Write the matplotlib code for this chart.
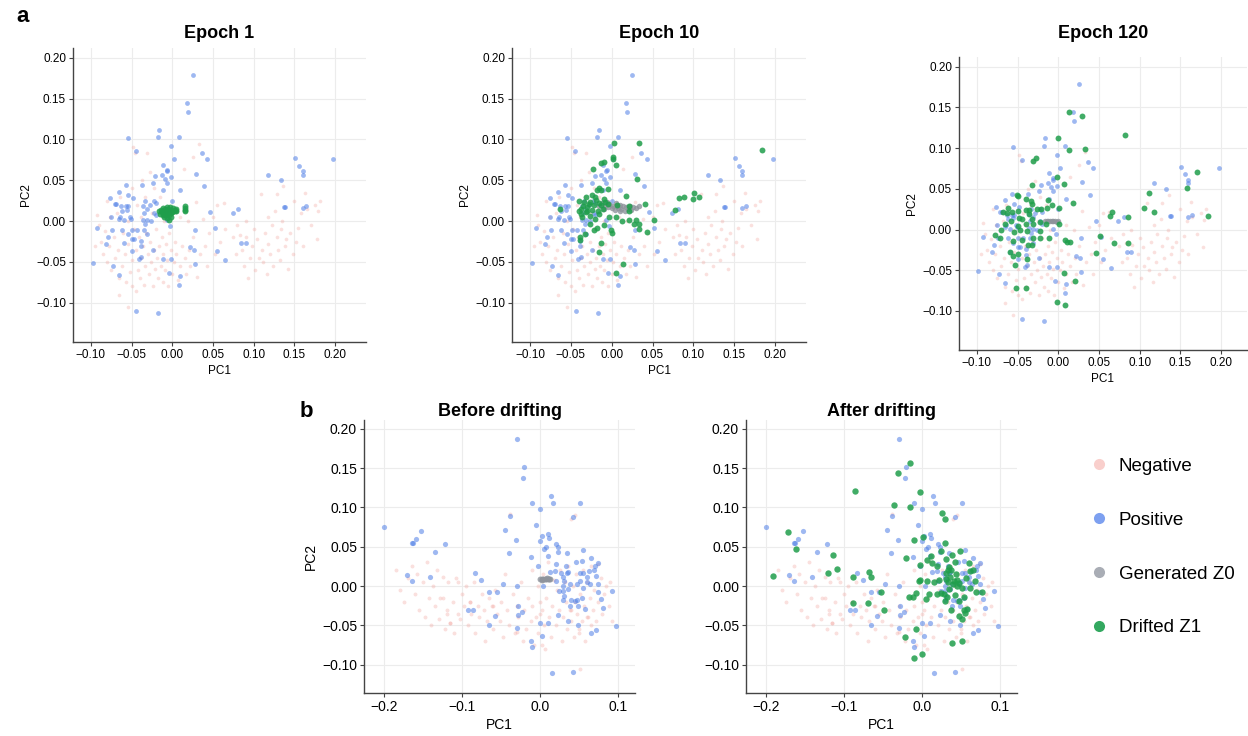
import numpy as np
import matplotlib
matplotlib.use("Agg")
import matplotlib.pyplot as plt
from matplotlib.lines import Line2D
from matplotlib.ticker import FuncFormatter

plt.rcParams['font.family'] = ['Liberation Sans', 'DejaVu Sans']

# ---- panel a: shared negative / positive points (PC1, PC2) ----
neg_a = np.array([
    (-0.090, -0.005), (-0.088, -0.025), (-0.085, -0.040), (-0.083, -0.012), (-0.080, -0.050),
    (-0.078, -0.030), (-0.076, 0.005), (-0.075, -0.060), (-0.072, -0.020), (-0.070, -0.045),
    (-0.068, 0.010), (-0.067, -0.035), (-0.066, -0.070), (-0.064, 0.030), (-0.062, -0.055),
    (-0.060, -0.015), (-0.058, -0.040), (-0.057, -0.075), (-0.055, 0.000), (-0.054, -0.028),
    (-0.052, -0.062), (-0.050, 0.040), (-0.049, -0.048), (-0.048, 0.091), (-0.047, -0.010),
    (-0.046, 0.084), (-0.045, -0.085), (-0.044, -0.035), (-0.043, 0.020), (-0.042, -0.060),
    (-0.041, -0.020), (-0.040, -0.070), (-0.039, 0.005), (-0.038, -0.045), (-0.037, 0.050),
    (-0.036, -0.030), (-0.035, -0.078), (-0.034, -0.055), (-0.033, 0.030), (-0.032, -0.015),
    (-0.031, 0.084), (-0.030, -0.040), (-0.029, -0.065), (-0.028, 0.060), (-0.027, -0.025),
    (-0.026, -0.050), (-0.025, 0.010), (-0.024, -0.080), (-0.023, -0.035), (-0.022, 0.040),
    (-0.021, -0.058), (-0.020, -0.010), (-0.019, -0.045), (-0.018, -0.070), (-0.016, -0.030),
    (-0.015, 0.030), (-0.014, -0.055), (-0.013, -0.020), (-0.012, -0.075), (-0.011, -0.040),
    (-0.010, 0.000), (-0.009, -0.060), (-0.008, -0.028), (-0.006, -0.048), (-0.005, -0.080),
    (-0.004, -0.015), (-0.002, -0.035), (0.000, -0.065), (0.002, -0.050), (0.003, -0.025),
    (0.005, -0.040), (0.007, -0.072), (0.009, 0.005), (0.010, -0.055), (0.012, -0.030),
    (0.014, 0.064), (0.015, -0.045), (0.017, -0.065), (0.019, 0.000), (0.020, -0.035),
    (0.022, -0.055), (0.025, 0.079), (0.026, -0.020), (0.029, 0.023), (0.030, -0.068),
    (0.033, 0.095), (0.034, -0.040), (0.038, 0.003), (0.040, -0.030), (0.043, -0.055),
    (0.045, -0.015), (0.050, 0.005), (0.052, -0.040), (0.055, 0.020), (0.058, -0.025),
    (0.063, 0.022), (0.065, -0.010), (-0.080, 0.025), (-0.095, -0.030), (-0.092, 0.008),
    (-0.066, -0.090), (-0.055, -0.105), (-0.050, -0.080),
    (0.075, -0.020), (0.078, -0.040), (0.080, -0.005), (0.083, -0.017), (0.085, -0.035),
    (0.088, -0.055), (0.091, -0.019), (0.093, -0.070), (0.095, -0.045), (0.098, -0.030),
    (0.100, -0.010), (0.102, -0.060), (0.104, -0.022), (0.106, -0.045), (0.109, 0.033),
    (0.110, -0.035), (0.112, -0.050), (0.114, -0.015), (0.116, -0.065), (0.118, -0.028),
    (0.120, -0.040), (0.122, -0.005), (0.124, -0.055), (0.126, 0.013), (0.128, 0.033),
    (0.128, -0.020), (0.130, -0.035), (0.132, -0.048), (0.134, -0.010), (0.136, 0.043),
    (0.138, -0.030), (0.140, -0.022), (0.142, -0.058), (0.145, -0.015), (0.148, -0.040),
    (0.150, 0.025), (0.152, -0.025), (0.155, -0.008), (0.158, 0.010), (0.160, -0.030),
    (0.163, 0.034), (0.165, 0.015), (0.170, -0.005), (0.175, 0.020), (0.179, 0.012),
    (0.182, 0.025), (0.178, -0.022), (0.118, 0.005), (0.135, 0.000), (0.090, 0.000),
])

pos_a = np.array([
    (0.025, 0.179), (0.018, 0.145), (0.019, 0.134), (-0.016, 0.112), (-0.018, 0.103),
    (0.008, 0.103), (-0.055, 0.102), (-0.045, 0.086), (-0.002, 0.092), (0.036, 0.083),
    (0.043, 0.076), (0.002, 0.076), (-0.011, 0.069), (-0.006, 0.063), (-0.007, 0.061),
    (0.029, 0.058), (-0.013, 0.057), (-0.002, 0.054), (-0.021, 0.055), (-0.009, 0.052),
    (-0.024, 0.047), (-0.007, 0.047), (-0.037, 0.044), (-0.057, 0.044), (0.039, 0.043),
    (0.010, 0.038), (-0.011, 0.038), (-0.066, 0.036), (-0.054, 0.032), (-0.076, 0.028),
    (-0.048, 0.028), (-0.034, 0.025), (-0.023, 0.025), (0.000, 0.025), (-0.071, 0.021),
    (-0.069, 0.021), (-0.063, 0.018), (-0.057, 0.018), (-0.054, 0.018), (-0.036, 0.019),
    (-0.028, 0.020), (-0.020, 0.022), (-0.062, 0.013), (-0.056, 0.014), (-0.031, 0.015),
    (-0.035, 0.010), (-0.022, 0.010), (-0.020, 0.007), (0.046, 0.011), (0.074, 0.010),
    (0.081, 0.015), (0.118, 0.057), (0.133, 0.050), (0.151, 0.077), (0.156, 0.068),
    (0.160, 0.061), (0.160, 0.057), (0.197, 0.076), (0.137, 0.017), (0.139, 0.017),
    (0.160, 0.016), (0.164, 0.018), (-0.075, 0.005), (-0.066, 0.003), (-0.064, 0.005),
    (-0.059, 0.001), (-0.052, 0.005), (-0.051, 0.003), (-0.036, 0.002), (-0.031, 0.001),
    (-0.033, -0.004), (-0.026, 0.000), (-0.007, 0.001), (-0.003, -0.006), (-0.093, -0.009),
    (-0.074, -0.011), (-0.062, -0.011), (-0.049, -0.011), (-0.043, -0.011), (-0.035, -0.011),
    (-0.031, -0.016), (-0.055, -0.016), (-0.047, -0.022), (-0.050, -0.022), (-0.079, -0.019),
    (-0.082, -0.028), (-0.059, -0.027), (-0.039, -0.024), (-0.039, -0.031), (-0.024, -0.035),
    (-0.050, -0.036), (-0.038, -0.044), (-0.041, -0.046), (-0.011, -0.046), (-0.002, -0.046),
    (0.028, -0.011), (0.052, -0.009), (0.022, -0.032), (0.027, -0.035), (0.055, -0.036),
    (0.065, -0.047), (0.028, -0.052), (0.084, -0.027), (0.090, -0.027), (-0.098, -0.051),
    (-0.073, -0.055), (-0.066, -0.066), (-0.004, -0.063), (0.010, -0.067), (0.008, -0.078),
    (-0.044, -0.110), (-0.017, -0.113),
])

gen_ep1 = np.array([
    (-0.012, 0.011), (-0.008, 0.012), (-0.004, 0.011), (0.000, 0.012), (0.004, 0.012),
])
drift_ep1 = np.array([
    (-0.016, 0.012), (-0.015, 0.009), (-0.014, 0.014), (-0.013, 0.011), (-0.012, 0.007),
    (-0.012, 0.016), (-0.011, 0.013), (-0.010, 0.009), (-0.010, 0.005), (-0.009, 0.015),
    (-0.008, 0.011), (-0.008, 0.007), (-0.007, 0.017), (-0.007, 0.013), (-0.006, 0.004),
    (-0.006, 0.009), (-0.005, 0.015), (-0.005, 0.011), (-0.004, 0.007), (-0.004, 0.002),
    (-0.003, 0.013), (-0.003, 0.017), (-0.002, 0.010), (-0.002, 0.005), (-0.001, 0.014),
    (0.000, 0.011), (0.001, 0.016), (0.002, 0.012), (0.003, 0.014), (0.004, 0.012),
    (0.005, 0.015), (0.015, 0.014), (0.016, 0.016), (0.015, 0.018), (0.016, 0.013),
])

gen_ep10 = np.array([
    (-0.015, 0.018), (-0.012, 0.022), (-0.010, 0.015), (-0.008, 0.019), (-0.005, 0.017),
    (-0.003, 0.021), (0.000, 0.016), (0.002, 0.019), (0.004, 0.014), (0.006, 0.018),
    (0.008, 0.016), (0.010, 0.020), (0.012, 0.015), (0.014, 0.018), (0.016, 0.013),
    (0.018, 0.017), (0.020, 0.015), (0.022, 0.019), (0.024, 0.014), (0.026, 0.017),
    (0.030, 0.016), (0.033, 0.018), (0.010, 0.012), (0.005, 0.022), (-0.006, 0.024),
])
drift_ep10 = np.array([
    (0.184, 0.087), (0.003, 0.096), (0.033, 0.096), (0.002, 0.078), (0.001, 0.076),
    (-0.009, 0.073), (-0.013, 0.071), (0.005, 0.069), (-0.023, 0.064), (0.031, 0.051),
    (-0.016, 0.040), (-0.018, 0.038), (-0.013, 0.038), (-0.005, 0.039), (-0.024, 0.032),
    (-0.032, 0.029), (-0.021, 0.029), (-0.010, 0.027), (0.017, 0.031), (-0.040, 0.025),
    (-0.034, 0.023), (-0.028, 0.021), (-0.016, 0.022), (-0.004, 0.021), (0.007, 0.020),
    (0.021, 0.019), (0.041, 0.021), (-0.037, 0.015), (-0.030, 0.017), (-0.024, 0.014),
    (-0.017, 0.013), (-0.011, 0.015), (-0.063, 0.015), (-0.038, 0.009), (-0.032, 0.011),
    (-0.026, 0.006), (-0.015, 0.009), (-0.003, 0.005), (0.021, 0.012), (0.013, 0.000),
    (0.021, 0.001), (0.030, 0.002), (0.027, -0.004), (0.033, -0.004), (0.033, -0.010),
    (0.052, 0.002), (0.043, -0.013), (-0.027, -0.003), (-0.022, -0.011), (-0.033, -0.016),
    (-0.018, -0.009), (-0.001, -0.011), (0.000, -0.015), (-0.039, -0.019), (-0.039, -0.023),
    (-0.013, -0.027), (-0.015, -0.038), (0.014, -0.052), (0.005, -0.064), (0.078, 0.014),
    (0.082, 0.028), (0.088, 0.029), (0.099, 0.027), (0.101, 0.034), (0.107, 0.029),
    (-0.035, 0.018), (-0.030, 0.013), (-0.027, 0.024), (-0.022, 0.020), (-0.019, 0.026),
    (-0.013, 0.020), (-0.008, 0.024), (-0.036, 0.005), (-0.020, 0.003), (-0.010, -0.005),
    (0.005, 0.005), (-0.040, 0.012),
])

gen_ep120 = np.array([
    (-0.016, 0.010), (-0.014, 0.010), (-0.012, 0.010), (-0.010, 0.011), (-0.008, 0.010),
    (-0.006, 0.010), (-0.004, 0.010), (-0.002, 0.009), (0.000, 0.010),
])
drift_ep120 = np.array([
    (0.013, 0.144), (0.029, 0.140), (0.082, 0.116), (0.000, 0.113), (0.013, 0.098),
    (0.033, 0.099), (-0.027, 0.088), (-0.031, 0.084), (-0.002, 0.065), (0.007, 0.056),
    (-0.032, 0.055), (0.170, 0.071), (0.158, 0.051), (0.111, 0.045), (-0.051, 0.043),
    (-0.050, 0.041), (-0.040, 0.037), (-0.034, 0.035), (-0.032, 0.032), (-0.013, 0.036),
    (0.018, 0.033), (-0.008, 0.030), (-0.062, 0.026), (-0.039, 0.024), (-0.036, 0.024),
    (-0.026, 0.025), (-0.021, 0.025), (-0.014, 0.026), (0.001, 0.026), (0.106, 0.026),
    (0.118, 0.021), (-0.049, 0.023), (-0.068, 0.021), (-0.063, 0.020), (-0.057, 0.021),
    (-0.036, 0.019), (0.066, 0.022), (0.064, 0.017), (0.086, 0.016), (0.184, 0.017),
    (-0.048, 0.014), (-0.044, 0.013), (-0.032, 0.013), (-0.023, 0.009), (-0.015, 0.007),
    (0.001, 0.007), (-0.058, 0.010), (-0.065, 0.007), (-0.049, 0.004), (-0.040, 0.007),
    (-0.031, 0.007), (-0.070, -0.001), (-0.047, -0.001), (-0.038, -0.002), (-0.022, -0.002),
    (-0.054, -0.003), (-0.078, -0.007), (-0.071, -0.010), (-0.031, -0.010), (-0.023, -0.011),
    (-0.011, -0.011), (-0.044, -0.013), (-0.055, -0.014), (0.008, -0.013), (0.011, -0.015),
    (0.015, -0.015), (0.051, -0.008), (0.068, -0.016), (0.086, -0.016), (-0.037, -0.019),
    (-0.032, -0.019), (0.047, -0.029), (-0.059, -0.028), (-0.055, -0.032), (-0.049, -0.030),
    (-0.038, -0.036), (-0.053, -0.043), (0.007, -0.053), (0.020, -0.063), (-0.052, -0.072),
    (-0.040, -0.072), (-0.002, -0.089), (0.008, -0.093),
])

# ---- panel b: shared negative / positive points ----
neg_b = np.array([
    (-0.185, 0.020), (-0.180, -0.005), (-0.175, -0.020), (-0.170, 0.010), (-0.165, 0.025),
    (-0.160, -0.010), (-0.158, 0.015), (-0.155, -0.030), (-0.150, 0.005), (-0.148, -0.040),
    (-0.145, 0.030), (-0.142, -0.015), (-0.140, -0.050), (-0.138, 0.000), (-0.135, -0.025),
    (-0.132, 0.020), (-0.130, -0.042), (-0.128, -0.015), (-0.125, 0.012), (-0.125, -0.015),
    (-0.122, -0.055), (-0.120, -0.030), (-0.118, 0.005), (-0.115, -0.047), (-0.115, -0.047),
    (-0.112, -0.020), (-0.110, -0.060), (-0.108, 0.010), (-0.105, -0.035), (-0.103, -0.042),
    (-0.100, -0.010), (-0.098, -0.025), (-0.095, 0.000), (-0.093, -0.050), (-0.090, -0.020),
    (-0.090, -0.020), (-0.088, -0.035), (-0.085, 0.005), (-0.083, -0.060), (-0.080, -0.025),
    (-0.078, -0.040), (-0.075, -0.010), (-0.072, -0.030), (-0.070, -0.070), (-0.068, -0.045),
    (-0.065, -0.015), (-0.062, -0.025), (-0.060, -0.055), (-0.058, -0.005), (-0.055, -0.035),
    (-0.052, -0.045), (-0.050, -0.020), (-0.048, -0.065), (-0.045, 0.015), (-0.042, -0.030),
    (-0.040, -0.050), (-0.038, 0.092), (-0.035, -0.010), (-0.032, -0.060), (-0.030, -0.025),
    (-0.028, -0.040), (-0.025, 0.005), (-0.022, -0.070), (-0.020, -0.030), (-0.018, -0.055),
    (-0.015, -0.015), (-0.012, -0.045), (-0.010, -0.025), (-0.008, -0.075), (-0.005, -0.040),
    (-0.003, 0.000), (-0.002, -0.060), (0.000, -0.020), (0.002, -0.030), (0.004, 0.015),
    (0.005, -0.050), (0.006, -0.080), (0.008, -0.015), (0.010, 0.030), (0.012, -0.040),
    (0.014, -0.065), (0.016, -0.025), (0.018, 0.008), (0.020, -0.050), (0.022, -0.005),
    (0.024, -0.030), (0.026, 0.020), (0.028, -0.070), (0.030, -0.040), (0.032, 0.005),
    (0.034, -0.020), (0.035, -0.055), (0.036, 0.025), (0.038, -0.030), (0.040, -0.045),
    (0.040, 0.085), (0.042, 0.000), (0.044, -0.065), (0.045, -0.020), (0.046, 0.015),
    (0.048, -0.035), (0.050, -0.055), (0.052, -0.010), (0.054, -0.045), (0.055, 0.020),
    (0.056, -0.025), (0.058, -0.070), (0.060, 0.005), (0.062, -0.040), (0.064, -0.015),
    (0.065, -0.050), (0.066, 0.025), (0.068, -0.030), (0.070, -0.005), (0.072, -0.045),
    (0.074, 0.028), (0.075, -0.020), (0.078, 0.010), (0.080, -0.035), (0.082, -0.010),
    (0.085, 0.000), (0.088, -0.025), (0.090, 0.005), (0.092, -0.045), (-0.030, -0.058),
    (-0.060, -0.025), (0.000, -0.035), (0.003, -0.075), (0.050, -0.060), (0.040, -0.030),
    (0.060, -0.040), (-0.010, 0.020), (0.045, 0.090), (0.052, -0.105), (-0.120, -0.035),
    (-0.105, 0.005),
])

pos_b = np.array([
    (-0.200, 0.075), (-0.153, 0.070), (-0.159, 0.060), (-0.164, 0.055), (-0.163, 0.055),
    (-0.135, 0.043), (-0.122, 0.053), (-0.171, 0.014), (-0.164, 0.007), (-0.141, 0.011),
    (-0.084, 0.017), (-0.076, 0.008), (-0.029, 0.187), (-0.020, 0.151), (-0.022, 0.137),
    (-0.010, 0.106), (0.014, 0.115), (0.017, 0.106), (0.052, 0.106), (0.000, 0.098),
    (-0.039, 0.089), (0.043, 0.088), (-0.005, 0.078), (-0.045, 0.071), (-0.031, 0.059),
    (-0.040, 0.042), (0.003, 0.063), (0.010, 0.066), (0.012, 0.061), (0.000, 0.057),
    (0.005, 0.047), (0.008, 0.050), (-0.012, 0.037), (0.010, 0.038), (0.020, 0.053),
    (0.023, 0.049), (0.023, 0.043), (0.035, 0.042), (0.055, 0.046), (0.046, 0.030),
    (0.054, 0.032), (0.065, 0.036), (-0.002, 0.025), (0.021, 0.028), (0.034, 0.026),
    (0.071, 0.025), (0.075, 0.029), (0.013, 0.018), (0.019, 0.019), (0.027, 0.017),
    (0.036, 0.018), (0.035, 0.016), (0.052, 0.017), (0.055, 0.017), (0.063, 0.019),
    (0.069, 0.021), (0.030, 0.011), (0.060, 0.011), (0.072, 0.013), (0.020, 0.007),
    (0.031, 0.007), (0.051, 0.006), (0.060, 0.005), (0.004, 0.000), (0.029, 0.000),
    (0.038, 0.003), (0.048, 0.002), (0.064, 0.002), (0.075, 0.003), (0.025, -0.006),
    (0.030, -0.006), (0.036, -0.004), (0.055, -0.002), (0.075, -0.007), (0.092, -0.006),
    (0.031, -0.013), (0.040, -0.018), (0.045, -0.019), (0.048, -0.018), (0.054, -0.015),
    (0.030, -0.018), (0.078, -0.017), (0.038, -0.025), (0.049, -0.025), (0.058, -0.029),
    (0.081, -0.028), (-0.066, -0.008), (-0.055, -0.008), (-0.048, 0.003), (-0.029, 0.000),
    (-0.028, -0.025), (-0.093, -0.031), (-0.086, -0.031), (-0.058, -0.038), (-0.028, -0.037),
    (-0.023, -0.033), (0.023, -0.037), (0.000, -0.047), (0.010, -0.047), (0.036, -0.045),
    (0.049, -0.050), (-0.066, -0.050), (-0.029, -0.053), (0.003, -0.064), (-0.011, -0.070),
    (-0.010, -0.078), (0.072, -0.056), (0.065, -0.060), (0.097, -0.051), (0.016, -0.111),
    (0.043, -0.109),
])

gen_before = np.array([
    (0.000, 0.009), (0.002, 0.009), (0.004, 0.009), (0.006, 0.009), (0.008, 0.009),
    (0.010, 0.009), (0.012, 0.009), (0.013, 0.009), (0.003, 0.008), (0.009, 0.010),
])
drift_after = np.array([
    (-0.016, 0.156), (-0.031, 0.144), (-0.086, 0.121), (-0.003, 0.119), (-0.036, 0.103),
    (-0.016, 0.101), (0.026, 0.093), (0.030, 0.085), (-0.172, 0.069), (-0.162, 0.047),
    (-0.010, 0.058), (0.001, 0.062), (0.030, 0.055), (-0.114, 0.039), (-0.020, 0.036),
    (0.011, 0.038), (0.024, 0.044), (0.038, 0.040), (0.049, 0.045), (-0.109, 0.022),
    (-0.121, 0.017), (-0.191, 0.013), (-0.088, 0.011), (-0.068, 0.018), (-0.066, 0.012),
    (-0.003, 0.027), (0.006, 0.033), (0.013, 0.029), (0.019, 0.025), (0.031, 0.034),
    (0.035, 0.024), (0.037, 0.021), (0.042, 0.031), (0.060, 0.029), (0.066, 0.021),
    (0.062, 0.019), (0.031, 0.017), (0.044, 0.015), (-0.004, 0.006), (-0.002, 0.008),
    (0.006, 0.006), (0.015, 0.005), (0.022, 0.008), (0.031, 0.009), (0.033, 0.005),
    (0.041, 0.006), (0.047, 0.004), (0.056, 0.010), (0.068, 0.006), (0.045, 0.000),
    (0.052, -0.003), (0.061, -0.003), (0.069, -0.007), (0.077, -0.007), (0.035, -0.004),
    (-0.053, -0.008), (-0.008, -0.009), (-0.017, -0.014), (-0.012, -0.014), (0.009, -0.010),
    (0.019, -0.010), (0.024, -0.009), (0.028, -0.010), (0.032, -0.014), (0.042, -0.012),
    (0.054, -0.014), (0.005, -0.017), (0.030, -0.019), (0.048, -0.019), (-0.088, -0.021),
    (-0.070, -0.021), (0.037, -0.030), (0.054, -0.031), (0.058, -0.029), (0.055, -0.034),
    (0.047, -0.038), (0.051, -0.042), (-0.049, -0.031), (-0.008, -0.055), (-0.022, -0.065),
    (0.038, -0.072), (0.051, -0.070), (0.000, -0.086), (-0.010, -0.092),
    (0.033, 0.020), (0.036, 0.012), (0.040, 0.002), (0.045, 0.008),
])

NEG = '#f2a19b'
POS = '#4f7fe6'
GEN = '#8e939b'
DRF = '#1f9e4b'


def minus_fmt(fmt):
    return FuncFormatter(lambda v, p: (fmt % v).replace('-', '\u2212'))


def style_axes(ax, xlim, ylim, xticks, yticks, xfmt, yfmt, size):
    ax.set_xlim(*xlim)
    ax.set_ylim(*ylim)
    ax.set_xticks(xticks)
    ax.set_yticks(yticks)
    ax.xaxis.set_major_formatter(minus_fmt(xfmt))
    ax.yaxis.set_major_formatter(minus_fmt(yfmt))
    ax.grid(True, color='#ececec', linewidth=0.8)
    ax.set_axisbelow(True)
    for s in ['top', 'right']:
        ax.spines[s].set_visible(False)
    for s in ['left', 'bottom']:
        ax.spines[s].set_color('#444444')
        ax.spines[s].set_linewidth(1.0)
    ax.tick_params(length=3, width=0.8, color='#444444', labelsize=size, pad=2)
    ax.set_xlabel('PC1', fontsize=size, labelpad=3)
    ax.set_ylabel('PC2', fontsize=size, labelpad=3)


def draw(ax, neg, pos, gen, drf, s_small, s_big):
    ax.scatter(neg[:, 0], neg[:, 1], s=s_small, color=NEG, alpha=0.33, linewidths=0)
    ax.scatter(pos[:, 0], pos[:, 1], s=s_big, color=POS, alpha=0.55, linewidths=0)
    if gen is not None:
        ax.scatter(gen[:, 0], gen[:, 1], s=s_big * 1.3, color=GEN, alpha=0.8, linewidths=0)
    if drf is not None:
        ax.scatter(drf[:, 0], drf[:, 1], s=s_big * 1.5, color=DRF, alpha=0.85, linewidths=0)


fig = plt.figure(figsize=(12.48, 7.36), dpi=100)

a_xt = [-0.10, -0.05, 0.00, 0.05, 0.10, 0.15, 0.20]
a_yt = [-0.10, -0.05, 0.00, 0.05, 0.10, 0.15, 0.20]
a_axes = [
    ([0.0585, 0.5353, 0.2348, 0.3995], 'Epoch 1', gen_ep1, drift_ep1, 0.238, 7),
    ([0.4103, 0.5353, 0.2356, 0.3995], 'Epoch 10', gen_ep10, drift_ep10, 0.238, 7),
    ([0.7684, 0.5245, 0.2308, 0.3980], 'Epoch 120', gen_ep120, drift_ep120, 0.232, 13.5),
]
for rect, title, gen, drf, xr, tpad in a_axes:
    ax = fig.add_axes(rect)
    draw(ax, neg_a, pos_a, gen, drf, 7, 12)
    style_axes(ax, (-0.122, xr), (-0.148, 0.212), a_xt, a_yt, '%.2f', '%.2f', 8.5)
    ax.set_title(title, fontsize=13, fontweight='bold', pad=tpad)

b_xt = [-0.2, -0.1, 0.0, 0.1]
b_yt = [-0.10, -0.05, 0.00, 0.05, 0.10, 0.15, 0.20]
ax4 = fig.add_axes([0.2917, 0.0584, 0.2171, 0.3709])
draw(ax4, neg_b, pos_b, gen_before, None, 8, 14)
style_axes(ax4, (-0.226, 0.122), (-0.136, 0.211), b_xt, b_yt, '%.1f', '%.2f', 10)
ax4.set_title('Before drifting', fontsize=13, fontweight='bold', pad=2)

ax5 = fig.add_axes([0.5978, 0.0584, 0.2171, 0.3709])
draw(ax5, neg_b, pos_b, None, drift_after, 8, 14)
style_axes(ax5, (-0.226, 0.122), (-0.136, 0.211), b_xt, b_yt, '%.1f', '%.2f', 10)
ax5.set_ylabel('')
ax5.set_title('After drifting', fontsize=13, fontweight='bold', pad=2)

fig.text(0.013, 0.977, 'a', fontsize=16, fontweight='bold', va='center')
fig.text(0.240, 0.441, 'b', fontsize=16, fontweight='bold', va='center')

handles = [
    Line2D([], [], marker='o', linestyle='', markersize=8, markerfacecolor='#f9cfcc', markeredgewidth=0),
    Line2D([], [], marker='o', linestyle='', markersize=8, markerfacecolor='#7da0f0', markeredgewidth=0),
    Line2D([], [], marker='o', linestyle='', markersize=8, markerfacecolor='#a9adb5', markeredgewidth=0),
    Line2D([], [], marker='o', linestyle='', markersize=8, markerfacecolor='#33a860', markeredgewidth=0),
]
fig.legend(handles, ['Negative', 'Positive', 'Generated Z0', 'Drifted Z1'],
           loc='upper left', bbox_to_anchor=(0.858, 0.401), frameon=False,
           fontsize=13.5, labelspacing=1.96, handletextpad=0.45, handlelength=1.2)

fig.savefig('out.png', dpi=100)
